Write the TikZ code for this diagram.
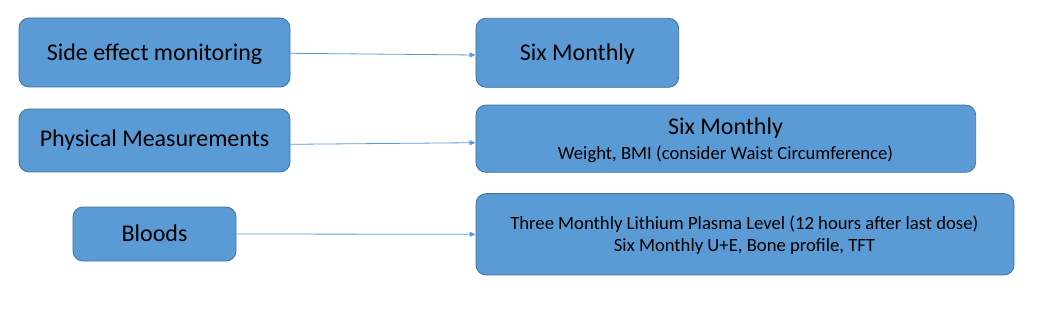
\documentclass[tikz,border=0pt]{standalone}
\usepackage{fontspec}
\setmainfont{Carlito}
\usetikzlibrary{arrows.meta}
\definecolor{boxfill}{HTML}{5B9BD5}
\definecolor{boxline}{HTML}{41719C}
\definecolor{arrowcol}{HTML}{5B9BD5}
\begin{document}
\begin{tikzpicture}[x=1pt,y=-1pt,
  box/.style={draw=boxline, line width=0.8pt, fill=boxfill, rounded corners=10pt,
    inner sep=0pt},
  big/.style={anchor=base, inner sep=0pt, text=black, font=\fontsize{24}{28}\selectfont},
  small/.style={anchor=base, inner sep=0pt, text=black, font=\fontsize{18.67}{22}\selectfont},
  conn/.style={draw=arrowcol, line width=0.8pt, -{Triangle[length=6pt,width=5pt]}}]
\useasboundingbox (0,0) rectangle (1042,310);
% left boxes
\node[box, minimum width=271pt, minimum height=69pt] (a) at (154.5,52.5) {};
\node[big] (at) at (154.5,60.3) {Side effect monitoring};
\node[box, minimum width=271pt, minimum height=63pt] (b) at (154.5,140.5) {};
\node[big] (bt) at (154.5,146.5) {Physical Measurements};
\node[box, minimum width=163pt, minimum height=54pt] (c) at (154.5,234) {};
\node[big] (ct) at (154.5,241.5) {Bloods};
% right boxes
\node[box, minimum width=202.7pt, minimum height=69pt] (d) at (577.3,52.8) {};
\node[big] (dt) at (577.3,60.2) {Six Monthly};
\node[box, minimum width=499.7pt, minimum height=67.3pt] (e) at (725.8,138.7) {};
\node[big] (et1) at (725.5,135) {Six Monthly};
\node[small] (et2) at (725.5,159.3) {Weight, BMI (consider Waist Circumference)};
\node[box, minimum width=538pt, minimum height=81.3pt] (f) at (745,234.3) {};
\node[small] (ft1) at (744.3,229.3) {Three Monthly Lithium Plasma Level (12 hours after last dose)};
\node[small] (ft2) at (744.5,251.7) {Six Monthly U+E, Bone profile, TFT};
% connectors
\draw[conn] ([yshift=-0.8pt]a.east) -- ([yshift=-2.2pt]d.west);
\draw[conn] ([yshift=-3.8pt]b.east) -- ([yshift=-4pt]e.west);
\draw[conn] (c.east) -- (f.west);
\end{tikzpicture}
\end{document}
